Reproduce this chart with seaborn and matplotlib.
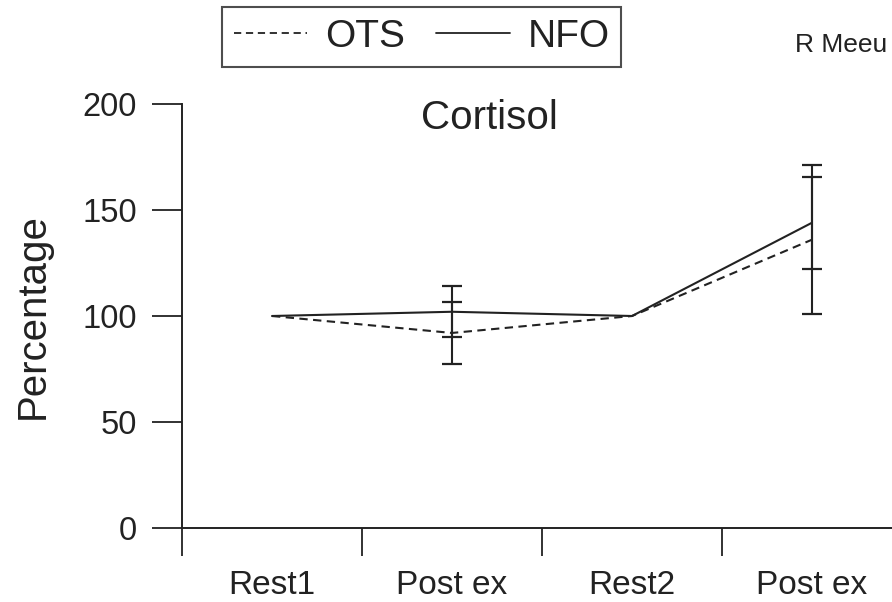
import numpy as np
import pandas as pd
import matplotlib
matplotlib.use("Agg")
import matplotlib.pyplot as plt
from matplotlib import font_manager
import seaborn as sns

# ---- data ----
timepoints = ["Rest1", "Post ex", "Rest2", "Post ex"]
groups = ["OTS", "NFO"]
ots_mean = [100, 92, 100, 136]
ots_err = [0, 14.5, 0, 35]
nfo_mean = [100, 102, 100, 144]
nfo_err = [0, 12, 0, 21.6]
yticks = [0, 50, 100, 150, 200]
title = "Cortisol"
ylabel = "Percentage"
header = "R Meeu"

sns.set_style("ticks")
names = {f.name for f in font_manager.fontManager.ttflist}
REG = "Liberation Sans" if "Liberation Sans" in names else "DejaVu Sans"
plt.rcParams["font.family"] = [REG, "DejaVu Sans"]

INK = "#222222"
pos = np.arange(len(timepoints))
df = pd.DataFrame({
    "pos": np.concatenate([pos, pos]),
    "value": ots_mean + nfo_mean,
    "group": [groups[0]] * len(pos) + [groups[1]] * len(pos),
})

fig = plt.figure(figsize=(8.92, 6.02), dpi=100)
ax = fig.add_axes([182 / 892, (602 - 528) / 602, 720 / 892, (528 - 104) / 602])

sns.lineplot(data=df, x="pos", y="value", style="group", style_order=groups,
             dashes={"OTS": (4, 2.6), "NFO": ""}, color=INK, linewidth=1.5,
             ax=ax, legend=True)

for mean, err in [(ots_mean, ots_err), (nfo_mean, nfo_err)]:
    idx = [i for i, e in enumerate(err) if e > 0]
    ax.errorbar(pos[idx], np.array(mean)[idx], yerr=np.array(err)[idx], fmt="none",
                ecolor=INK, elinewidth=1.5, capsize=7, capthick=1.6)

ax.set_xlim(-0.5, len(timepoints) - 0.5)
ax.set_ylim(0, 200)
ax.set_yticks(yticks)
ax.set_yticklabels([str(v) for v in yticks], fontsize=23.5, color=INK)
ax.set_xticks(pos)
ax.set_xticklabels(timepoints, fontsize=24, color=INK)
ax.set_xticks(pos - 0.5, minor=True)
ax.tick_params(axis="x", which="major", length=0, pad=30)
ax.tick_params(axis="x", which="minor", length=20, width=1.3, color=INK, direction="out")
ax.tick_params(axis="y", length=21.5, width=1.3, color=INK, pad=11)
ax.set_xlabel("")
ax.set_ylabel(ylabel, fontsize=29, color=INK, labelpad=22)
for s in ["top", "right"]:
    ax.spines[s].set_visible(False)
for s in ["left", "bottom"]:
    ax.spines[s].set_linewidth(1.4)
    ax.spines[s].set_color(INK)

ax.text(489 / 892, (602 - 118) / 602, title, transform=fig.transFigure,
        ha="center", va="center", fontsize=29, color=INK)
fig.text(795 / 892, (602 - 45) / 602, header, ha="left", va="center",
         fontsize=19, color=INK)

handles, labels = ax.get_legend_handles_labels()
ax.get_legend().remove()
leg = fig.legend(handles, labels, loc="center", bbox_to_anchor=(421.5 / 892, (602 - 37) / 602),
                 ncol=2, frameon=True, fancybox=False,
                 handlelength=1.9, handletextpad=0.45, columnspacing=0.8,
                 borderpad=0.3, borderaxespad=0, prop={"family": REG, "size": 28})
leg.get_frame().set_edgecolor(INK)
leg.get_frame().set_linewidth(1.5)
for t in leg.get_texts():
    t.set_color(INK)
for h in leg.legend_handles:
    h.set_color(INK)
    h.set_linewidth(1.3)

fig.savefig("out.png", dpi=100)
